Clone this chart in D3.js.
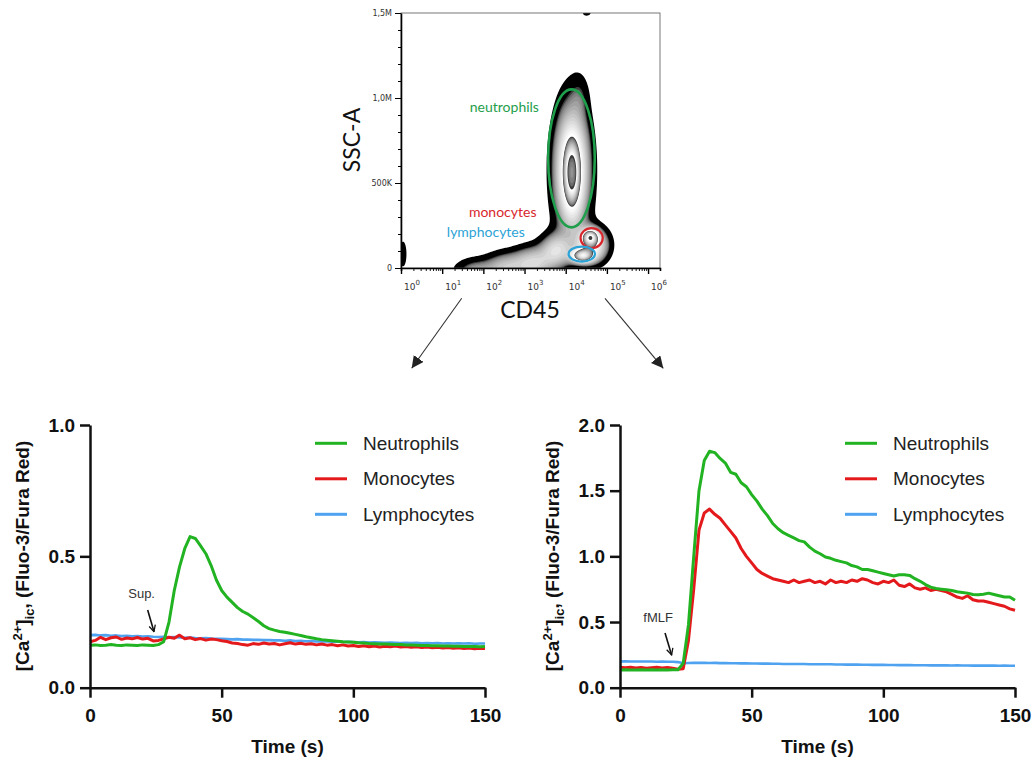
<!DOCTYPE html>
<html lang="en">
<head>
    <meta charset="UTF-8">
    <script src="https://d3js.org/d3.v7.min.js"></script>
    <title>CD45 gating and calcium flux</title>
    <style>
        body{
            margin: 0;
            background-color: #ffffff;
        }
        svg{
            display: block;
        }
        .panel text{
            font-family: 'Liberation Sans', Arial, sans-serif;
        }
        .flow text{
            font-family: Lato, 'Open Sans', sans-serif;
        }
    </style>
</head>
<body>
<svg id="canvas" width="1033" height="758"></svg>
<script>
// ---- line chart data (2 s steps) ----
let timeS = [0,2,4,6,8,10,12,14,16,18,
    20,22,24,26,28,30,32,34,36,38,
    40,42,44,46,48,50,52,54,56,58,
    60,62,64,66,68,70,72,74,76,78,
    80,82,84,86,88,90,92,94,96,98,
    100,102,104,106,108,110,112,114,116,118,
    120,122,124,126,128,130,132,134,136,138,
    140,142,144,146,148,150]
let timeTicks = [0, 50, 100, 150]
let seriesNames = ['Neutrophils', 'Monocytes', 'Lymphocytes']
let seriesColors = ['#22b322', '#e4191c', '#4ea2f0']

// left panel: supernatant
let supNeutro = [0.162,0.163,0.161,0.162,0.164,0.162,0.161,0.163,0.162,0.161,
    0.163,0.162,0.161,0.164,0.175,0.25,0.37,0.46,0.53,0.575,
    0.568,0.54,0.51,0.465,0.41,0.37,0.345,0.325,0.305,0.29,
    0.28,0.266,0.252,0.236,0.225,0.219,0.214,0.211,0.207,0.203,
    0.199,0.194,0.19,0.186,0.183,0.181,0.179,0.177,0.175,0.174,
    0.173,0.171,0.17,0.168,0.167,0.166,0.166,0.165,0.164,0.164,
    0.163,0.163,0.162,0.161,0.161,0.16,0.16,0.159,0.159,0.158,
    0.158,0.157,0.157,0.157,0.156,0.157]
let supMono = [0.175,0.18,0.192,0.183,0.19,0.193,0.184,0.189,0.186,0.191,
    0.185,0.188,0.178,0.18,0.186,0.192,0.188,0.2,0.186,0.19,
    0.183,0.187,0.181,0.185,0.183,0.179,0.176,0.17,0.168,0.164,
    0.162,0.168,0.165,0.17,0.166,0.168,0.163,0.167,0.171,0.166,
    0.169,0.165,0.167,0.163,0.166,0.162,0.164,0.16,0.163,0.159,
    0.161,0.157,0.16,0.156,0.159,0.155,0.158,0.156,0.159,0.155,
    0.157,0.154,0.156,0.153,0.155,0.152,0.154,0.151,0.153,0.15,
    0.152,0.149,0.151,0.148,0.15,0.149]
let supLymph = [0.2,0.201,0.199,0.2,0.198,0.199,0.197,0.198,0.196,0.197,
    0.195,0.196,0.194,0.193,0.194,0.192,0.193,0.191,0.19,0.191,
    0.189,0.188,0.189,0.187,0.186,0.186,0.185,0.184,0.185,0.183,
    0.183,0.182,0.182,0.181,0.181,0.18,0.18,0.179,0.18,0.178,
    0.179,0.177,0.178,0.176,0.177,0.176,0.175,0.176,0.174,0.175,
    0.174,0.173,0.174,0.172,0.173,0.172,0.171,0.172,0.171,0.17,
    0.171,0.17,0.171,0.169,0.17,0.169,0.17,0.168,0.169,0.168,
    0.169,0.168,0.169,0.167,0.168,0.168]

// right panel: fMLF
let fmlfNeutro = [0.135,0.136,0.134,0.135,0.137,0.135,0.136,0.134,0.136,0.135,
    0.136,0.137,0.185,0.48,1.0,1.5,1.73,1.8,1.79,1.745,
    1.71,1.64,1.625,1.56,1.53,1.47,1.42,1.36,1.31,1.25,
    1.21,1.18,1.16,1.14,1.12,1.11,1.07,1.04,1.02,0.995,
    0.985,0.97,0.96,0.95,0.93,0.92,0.9,0.9,0.89,0.88,
    0.87,0.86,0.85,0.86,0.86,0.855,0.83,0.81,0.785,0.765,
    0.755,0.75,0.745,0.74,0.73,0.725,0.72,0.71,0.708,0.712,
    0.72,0.71,0.7,0.69,0.69,0.665]
let fmlfMono = [0.155,0.152,0.156,0.15,0.154,0.149,0.152,0.155,0.15,0.153,
    0.148,0.14,0.145,0.36,0.75,1.2,1.33,1.36,1.32,1.29,
    1.24,1.19,1.14,1.06,1.0,0.95,0.9,0.87,0.85,0.83,
    0.82,0.81,0.8,0.82,0.8,0.81,0.82,0.8,0.81,0.79,
    0.82,0.8,0.81,0.8,0.82,0.81,0.83,0.82,0.8,0.79,
    0.81,0.8,0.82,0.78,0.77,0.79,0.76,0.75,0.76,0.74,
    0.75,0.74,0.73,0.71,0.69,0.68,0.7,0.67,0.66,0.66,
    0.65,0.64,0.63,0.62,0.6,0.59]
let fmlfLymph = [0.2,0.201,0.2,0.199,0.2,0.199,0.2,0.198,0.199,0.197,
    0.198,0.195,0.186,0.188,0.189,0.19,0.189,0.188,0.189,0.187,
    0.187,0.186,0.186,0.185,0.185,0.184,0.184,0.183,0.183,0.182,
    0.182,0.181,0.181,0.18,0.181,0.18,0.179,0.179,0.178,0.179,
    0.178,0.177,0.177,0.176,0.177,0.176,0.175,0.175,0.174,0.175,
    0.174,0.173,0.173,0.172,0.173,0.172,0.171,0.171,0.171,0.17,
    0.17,0.17,0.17,0.169,0.17,0.169,0.169,0.168,0.169,0.168,
    0.168,0.168,0.167,0.168,0.167,0.167]

// stimulus notes (time, value) for label, arrow tail, arrow tip
let noteLabels = ['Sup.', 'fMLF']
let noteTextT = [19.6, 14.5]
let noteTextV = [0.36, 0.538]
let noteFromT = [21.9, 17.1]
let noteFromV = [0.296, 0.416]
let noteToT = [24.3, 19.6]
let noteToV = [0.213, 0.249]

// ---- flow cytometry plot: populations as log10(CD45) / SSC-A blobs ----
// neutrophils (broad + core), neutrophil tip, low lobe, monocytes, lymphocytes,
// 4 x debris tail, left edge, top speck
let blobCd45 = [4.15, 4.15, 4.34, 4.64, 4.60, 4.40, 1.80, 2.53, 3.21, 3.77, 0.05, 4.51]
let blobSsc = [576000, 559000, 1018000, 135000, 182000, 71000, -23500, 0, 29400, 106000, 82000, 1500000]
let blobSdCd45 = [0.267, 0.121, 0.146, 0.245, 0.121, 0.17, 0.32, 0.32, 0.32, 0.25, 0.07, 0.073]
let blobSdSsc = [235000, 118000, 82000, 65000, 29000, 26000, 50000, 58000, 62000, 64000, 62000, 12000]
let blobWeight = [0.5, 0.5, 0.05, 0.4, 0.5, 0.55, 0.15, 0.2, 0.25, 0.25, 0.07, 0.08]

let sscTicks = [0, 500000, 1000000, 1500000]
let sscLabels = ['0', '500K', '1,0M', '1,5M']
let cd45Decades = [0, 1, 2, 3, 4, 5, 6]

let gateNames = ['neutrophils', 'monocytes', 'lymphocytes']
let gateColors = ['#1f9e4b', '#d8262c', '#2ba3d6']
let gateCd45 = [4.14, 4.63, 4.39]
let gateSsc = [645000, 176000, 82000]
let gateHalfCd45 = [0.566, 0.27, 0.32]
let gateHalfSsc = [406000, 59000, 44000]
let gateLabelCd45 = [2.51, 2.47, 2.06]
let gateLabelSsc = [919000, 302000, 184000]

let svg = d3.select('#canvas')
let defs = svg.append('defs')

defs.append('marker').attr('id', 'bigHead')
    .attr('viewBox', '0 0 10 10').attr('refX', 10).attr('refY', 5)
    .attr('markerWidth', 12).attr('markerHeight', 12).attr('markerUnits', 'userSpaceOnUse')
    .attr('orient', 'auto')
    .append('path').attr('d', 'M0,0 L10,5 L0,10 z').attr('fill', '#222')

defs.append('marker').attr('id', 'openHead')
    .attr('viewBox', '0 0 10 10').attr('refX', 9).attr('refY', 5)
    .attr('markerWidth', 8).attr('markerHeight', 8).attr('markerUnits', 'userSpaceOnUse')
    .attr('orient', 'auto')
    .append('path').attr('d', 'M1,1 L9,5 L1,9').attr('fill', 'none')
    .attr('stroke', '#111').attr('stroke-width', 1.6)

// ================= top density plot =================
let flowX = d3.scaleLog().domain([1, 1.95e6]).range([401, 660])
let flowY = d3.scaleLinear().domain([0, 1.5e6]).range([268, 13])
let fx0 = 401, fy0 = 13, gw = 259, gh = 255

defs.append('clipPath').attr('id', 'flowClip')
    .append('rect').attr('x', fx0).attr('y', fy0).attr('width', gw).attr('height', gh)

let flowG = svg.append('g').attr('class', 'flow')

// density grid, one cell per pixel
let grid = new Array(gw * gh)
for (let j = 0; j < gh; j++) {
    let ssc = flowY.invert(fy0 + j + 0.5)
    for (let i = 0; i < gw; i++) {
        let lc = Math.log10(flowX.invert(fx0 + i + 0.5))
        let v = 0
        for (let b = 0; b < blobWeight.length; b++) {
            let dx = (lc - blobCd45[b]) / blobSdCd45[b]
            let dy = (ssc - blobSsc[b]) / blobSdSsc[b]
            v += blobWeight[b] * Math.exp(-0.5 * (dx * dx + dy * dy))
        }
        grid[j * gw + i] = v
    }
}

// zebra shading: black outer band, then dark->white stripes
let stripeEdges = [0.035, 0.09, 0.45, 0.8, 2.0]
let levels = [{v: stripeEdges[0], c: '#000000'}]
let grey = d3.interpolateRgb('#3a3a3a', '#ffffff')
for (let s = 1; s < stripeEdges.length - 1; s++) {
    let a = stripeEdges[s], b = stripeEdges[s + 1]
    for (let k = 0; k < 14; k++) {
        levels.push({v: a * Math.pow(b / a, k / 14), c: grey(Math.pow(k / 13, 0.55))})
    }
}
let contours = d3.contours().size([gw, gh]).thresholds(levels.map(d => d.v))(grid)

flowG.append('g')
    .attr('clip-path', 'url(#flowClip)')
    .append('g')
    .attr('transform', `translate(${fx0},${fy0})`)
    .selectAll('path')
    .data(contours)
    .enter()
    .append('path')
    .attr('d', d3.geoPath())
    .attr('fill', (d, i) => levels[i].c)

// frame
flowG.append('rect')
    .attr('x', fx0).attr('y', fy0).attr('width', gw).attr('height', gh)
    .attr('fill', 'none').attr('stroke', '#555').attr('stroke-width', 0.8)

// y axis, minor + major ticks
flowG.append('g').attr('transform', `translate(${fx0},0)`)
    .call(d3.axisLeft(flowY).tickValues(flowY.ticks(15)).tickSize(3).tickFormat(''))
    .call(g => g.select('.domain').remove())
flowG.append('g').attr('transform', `translate(${fx0},0)`)
    .call(d3.axisLeft(flowY).tickValues(sscTicks).tickSize(6).tickSizeOuter(0).tickPadding(3)
        .tickFormat((d, i) => sscLabels[i]))
    .call(g => g.selectAll('text').style('font-family', "'DejaVu Sans', sans-serif")
        .attr('font-size', 8).attr('fill', '#333'))
    .call(g => g.select('.domain').attr('stroke-width', 1.6))

// x axis, log ticks
let isDecade = d => Number.isInteger(Math.round(Math.log10(d) * 1000) / 1000)
let logTicks = flowX.ticks().filter(d => d <= 1.95e6)
flowG.append('g').attr('transform', `translate(0,${fy0 + gh})`)
    .call(d3.axisBottom(flowX).tickValues(logTicks).tickSizeOuter(0).tickFormat('')
        .tickSize(3))
    .call(g => g.selectAll('.tick line')
        .attr('y2', d => isDecade(d) ? 6 : 3)
        .attr('stroke-width', d => isDecade(d) ? 1.4 : 0.9))
    .call(g => g.select('.domain').attr('stroke-width', 1.6))

let decadeLabels = flowG.append('g')
    .selectAll('text')
    .data(cd45Decades)
    .enter()
    .append('text')
    .attr('x', d => flowX(Math.pow(10, d)) + 3)
    .attr('y', 290)
    .attr('font-size', 9)
    .attr('fill', '#333')
    .style('font-family', "'DejaVu Sans', sans-serif")
decadeLabels.append('tspan').text('10')
decadeLabels.append('tspan').attr('dy', -5).attr('font-size', 7).text(d => d)

// gates
gateNames.forEach((name, i) => {
    let cx = flowX(Math.pow(10, gateCd45[i]))
    let rx = flowX(Math.pow(10, gateCd45[i] + gateHalfCd45[i])) - cx
    let cy = flowY(gateSsc[i])
    let ry = flowY(gateSsc[i] - gateHalfSsc[i]) - cy
    flowG.append('ellipse')
        .attr('cx', cx).attr('cy', cy).attr('rx', rx).attr('ry', ry)
        .attr('fill', 'none').attr('stroke', gateColors[i])
        .attr('stroke-width', i === 0 ? 2.6 : 2.2)
    flowG.append('text')
        .attr('x', flowX(Math.pow(10, gateLabelCd45[i])))
        .attr('y', flowY(gateLabelSsc[i]))
        .attr('text-anchor', 'middle')
        .attr('font-size', 14)
        .attr('fill', gateColors[i])
        .text(name)
})

flowG.append('text')
    .attr('transform', 'translate(360,140) rotate(-90)')
    .attr('text-anchor', 'middle')
    .attr('font-size', 23)
    .attr('fill', '#111')
    .text('SSC-A')
flowG.append('text')
    .attr('x', 530).attr('y', 318)
    .attr('text-anchor', 'middle')
    .attr('font-size', 23)
    .attr('fill', '#111')
    .text('CD45')

// arrows down to the two panels
let bigArrows = [[461.7, 298.3, 411.7, 368.3], [605, 298.3, 663.3, 368.3]]
svg.selectAll('.bigArrow')
    .data(bigArrows)
    .enter()
    .append('line')
    .attr('class', 'bigArrow')
    .attr('x1', d => d[0]).attr('y1', d => d[1])
    .attr('x2', d => d[2]).attr('y2', d => d[3])
    .attr('stroke', '#333').attr('stroke-width', 1.1)
    .attr('marker-end', 'url(#bigHead)')

// ================= calcium panels =================
let drawPanel = (left, yMax, yTicks, values, noteIdx) => {
    let x = d3.scaleLinear().domain([0, 150]).range([left, left + 395])
    let y = d3.scaleLinear().domain([0, yMax]).range([687.7, 425])
    let g = svg.append('g').attr('class', 'panel')

    let line = d3.line()
        .x((d, i) => x(timeS[i]))
        .y(d => y(d))

    // lymphocytes first, neutrophils on top
    let order = [2, 1, 0]
    order.forEach(k => {
        g.append('path')
            .attr('d', line(values[k]))
            .attr('fill', 'none')
            .attr('stroke', seriesColors[k])
            .attr('stroke-width', k === 2 ? 2.6 : 3)
            .attr('stroke-linejoin', 'round')
    })

    let yAxis = g.append('g')
        .attr('transform', `translate(${left},0)`)
        .call(d3.axisLeft(y).tickValues(yTicks).tickFormat(d3.format('.1f'))
            .tickSize(10).tickSizeOuter(0).tickPadding(5))
    let xAxis = g.append('g')
        .attr('transform', `translate(0,${y(0)})`)
        .call(d3.axisBottom(x).tickValues(timeTicks)
            .tickSize(10).tickSizeOuter(0).tickPadding(11))
    ;[yAxis, xAxis].forEach(a => {
        a.selectAll('path, line').attr('stroke', '#111').attr('stroke-width', 2.5)
        a.selectAll('text').attr('font-size', 19).attr('font-weight', 'bold').attr('fill', '#111')
    })

    // legend
    seriesNames.forEach((name, k) => {
        let ly = 443.3 + k * 35.5
        g.append('line')
            .attr('x1', left + 225).attr('x2', left + 257)
            .attr('y1', ly).attr('y2', ly)
            .attr('stroke', seriesColors[k]).attr('stroke-width', 3)
        g.append('text')
            .attr('x', left + 273).attr('y', ly)
            .attr('dy', '0.35em')
            .attr('font-size', 19)
            .attr('fill', '#222')
            .text(name)
    })

    // axis titles
    g.append('text')
        .attr('x', left + 197.5).attr('y', 753)
        .attr('text-anchor', 'middle')
        .attr('font-size', 19).attr('font-weight', 'bold').attr('fill', '#111')
        .text('Time (s)')

    let yl = g.append('text')
        .attr('transform', `translate(${left - 61},556) rotate(-90)`)
        .attr('text-anchor', 'middle')
        .attr('font-size', 19).attr('font-weight', 'bold').attr('fill', '#111')
    yl.append('tspan').text('[Ca')
    yl.append('tspan').attr('dy', -7).attr('font-size', 13).text('2+')
    yl.append('tspan').attr('dy', 7).text(']')
    yl.append('tspan').attr('dy', 5).attr('font-size', 13).text('ic')
    yl.append('tspan').attr('dy', -5).text(', (Fluo-3/Fura Red)')

    // stimulus note
    g.append('text')
        .attr('x', x(noteTextT[noteIdx])).attr('y', y(noteTextV[noteIdx]))
        .attr('dy', '0.35em')
        .attr('text-anchor', 'middle')
        .attr('font-size', 13).attr('fill', '#333')
        .text(noteLabels[noteIdx])
    g.append('line')
        .attr('x1', x(noteFromT[noteIdx])).attr('y1', y(noteFromV[noteIdx]))
        .attr('x2', x(noteToT[noteIdx])).attr('y2', y(noteToV[noteIdx]))
        .attr('stroke', '#111').attr('stroke-width', 1.6)
        .attr('marker-end', 'url(#openHead)')
}

drawPanel(90, 1.0, [0, 0.5, 1.0], [supNeutro, supMono, supLymph], 0)
drawPanel(620, 2.0, [0, 0.5, 1.0, 1.5, 2.0], [fmlfNeutro, fmlfMono, fmlfLymph], 1)
</script>
</body>
</html>
